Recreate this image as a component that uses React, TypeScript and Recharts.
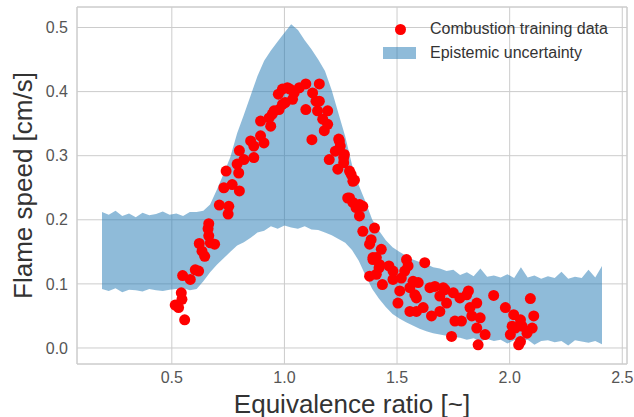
import React from 'react';
import {
  Area,
  CartesianGrid,
  ComposedChart,
  Legend,
  ReferenceArea,
  Scatter,
  XAxis,
  YAxis,
} from 'recharts';

// Uncertainty band sampled along the equivalence ratio axis.
const bandX = [
  0.19, 0.22, 0.25, 0.28, 0.31, 0.34, 0.37, 0.4, 0.43, 0.46, 0.49, 0.52, 0.55, 0.58,
  0.61, 0.64, 0.67, 0.7, 0.73, 0.76, 0.79, 0.82, 0.85, 0.88, 0.91, 0.94, 0.97, 1.0,
  1.03, 1.06, 1.09, 1.12, 1.15, 1.18, 1.21, 1.24, 1.27, 1.3, 1.33, 1.36, 1.39, 1.42,
  1.45, 1.48, 1.51, 1.54, 1.57, 1.6, 1.63, 1.66, 1.69, 1.72, 1.75, 1.78, 1.81, 1.84,
  1.87, 1.9, 1.93, 1.96, 1.99, 2.02, 2.05, 2.08, 2.11, 2.14, 2.17, 2.2, 2.23, 2.26,
  2.29, 2.32, 2.35, 2.38, 2.41,
];
const bandHigh = [
  0.212, 0.208, 0.214, 0.206, 0.21, 0.204, 0.211, 0.207, 0.209, 0.213, 0.208, 0.21, 0.206, 0.212,
  0.212, 0.214, 0.224, 0.247, 0.272, 0.298, 0.335, 0.364, 0.394, 0.424, 0.448, 0.464, 0.478, 0.492,
  0.505, 0.496, 0.48, 0.466, 0.45, 0.432, 0.402, 0.366, 0.33, 0.286, 0.254, 0.228, 0.2, 0.183,
  0.168, 0.157, 0.15, 0.144, 0.138, 0.134, 0.131, 0.126, 0.124, 0.12, 0.122, 0.114, 0.118, 0.112,
  0.124, 0.111, 0.113, 0.11, 0.115, 0.109, 0.126, 0.11, 0.113, 0.108, 0.112, 0.109, 0.119, 0.108,
  0.111, 0.109, 0.122, 0.11, 0.128,
];
const bandLow = [
  0.092, 0.089, 0.093, 0.087, 0.091, 0.09, 0.088, 0.092, 0.09, 0.089, 0.091, 0.092, 0.093, 0.09,
  0.092, 0.104, 0.118, 0.13, 0.14, 0.15, 0.16, 0.165, 0.172, 0.18, 0.183, 0.19, 0.186, 0.191,
  0.188, 0.186, 0.19, 0.185, 0.184, 0.18, 0.176, 0.17, 0.164, 0.153, 0.136, 0.113, 0.092, 0.077,
  0.064, 0.053, 0.046, 0.04, 0.035, 0.03, 0.026, 0.023, 0.021, 0.019, 0.017, 0.016, 0.013, 0.015,
  0.01, 0.014, 0.011, 0.013, 0.007, 0.012, 0.01, 0.013, 0.005, 0.011, 0.012, 0.009, 0.011, 0.004,
  0.012, 0.01, 0.008, 0.011, 0.006,
];

// Combustion training data: [equivalence ratio, flame speed]
const trainingData: [number, number][] = [
  [0.557, 0.044], [0.515, 0.067], [0.53, 0.063], [0.545, 0.076], [0.542, 0.086],
  [0.548, 0.113], [0.582, 0.107], [0.604, 0.122], [0.619, 0.12], [0.646, 0.143],
  [0.634, 0.151], [0.622, 0.163], [0.664, 0.175], [0.69, 0.162], [0.671, 0.164],
  [0.664, 0.194], [0.661, 0.186], [0.711, 0.223], [0.753, 0.221], [0.75, 0.209],
  [0.731, 0.25], [0.768, 0.255], [0.8, 0.245], [0.741, 0.276], [0.797, 0.273],
  [0.79, 0.287], [0.82, 0.294], [0.8, 0.308], [0.864, 0.297], [0.85, 0.323],
  [0.864, 0.315], [0.894, 0.331], [0.909, 0.32], [0.894, 0.354], [0.939, 0.346],
  [0.946, 0.365], [0.976, 0.372], [1.003, 0.383], [0.973, 0.396], [0.991, 0.404],
  [1.024, 0.404], [1.036, 0.388], [1.066, 0.406], [1.013, 0.406], [1.043, 0.398],
  [1.095, 0.412], [1.155, 0.412], [0.991, 0.38], [0.954, 0.37], [0.932, 0.359],
  [1.095, 0.372], [1.14, 0.385], [1.125, 0.398], [1.147, 0.37], [1.192, 0.37],
  [1.17, 0.357], [1.192, 0.349], [1.177, 0.339], [1.122, 0.325], [1.241, 0.326],
  [1.248, 0.315], [1.226, 0.307], [1.263, 0.297], [1.199, 0.294], [1.237, 0.279],
  [1.289, 0.276], [1.263, 0.289], [1.266, 0.302], [1.155, 0.385], [1.244, 0.323],
  [1.296, 0.271], [1.304, 0.26], [1.289, 0.234], [1.333, 0.224], [1.311, 0.262],
  [1.281, 0.234], [1.304, 0.227], [1.318, 0.219], [1.348, 0.221], [1.333, 0.206],
  [1.348, 0.182], [1.4, 0.187], [1.385, 0.169], [1.378, 0.162], [1.43, 0.154],
  [1.408, 0.141], [1.423, 0.13], [1.408, 0.115], [1.435, 0.099], [1.464, 0.128],
  [1.482, 0.107], [1.542, 0.138], [1.534, 0.12], [1.512, 0.089], [1.504, 0.07],
  [1.623, 0.133], [1.571, 0.104], [1.594, 0.102], [1.579, 0.083], [1.557, 0.057],
  [1.586, 0.057], [1.616, 0.063], [1.646, 0.094], [1.668, 0.096], [1.69, 0.081],
  [1.653, 0.05], [1.69, 0.057], [1.72, 0.07], [1.75, 0.086], [1.757, 0.042],
  [1.742, 0.018], [1.779, 0.078], [1.393, 0.138], [1.378, 0.112], [1.482, 0.12],
  [1.557, 0.094], [1.586, 0.078], [1.713, 0.091], [1.817, 0.089], [1.824, 0.063],
  [1.854, 0.07], [1.786, 0.042], [1.832, 0.05], [1.869, 0.047], [1.854, 0.031],
  [1.891, 0.021], [1.86, 0.005], [1.929, 0.082], [1.981, 0.063], [2.018, 0.052],
  [2.048, 0.044], [2.092, 0.077], [2.107, 0.05], [2.1, 0.031], [2.077, 0.023],
  [2.04, 0.005], [2.003, 0.021], [2.055, 0.034], [2.025, 0.031], [2.011, 0.034],
  [2.048, 0.01], [1.519, 0.109], [1.549, 0.128], [1.705, 0.094], [1.809, 0.083],
  [1.42, 0.125], [1.393, 0.141],
];

const xTicks = [0.5, 1.0, 1.5, 2.0, 2.5];
const yTicks = [0.0, 0.1, 0.2, 0.3, 0.4, 0.5];
const X_DOMAIN: [number, number] = [0.079, 2.521];
const Y_DOMAIN: [number, number] = [-0.025, 0.532];

const FONT = "'Liberation Sans', Arial, sans-serif";
const GRID = '#cccccc';
const BAND = '#1f77b4';

const bandRows = bandX.map((x, i) => ({ x, band: [bandLow[i], bandHigh[i]] }));
const points = trainingData.map(([x, y]) => ({ x, y }));

function Dot(props: { cx?: number; cy?: number }) {
  if (props.cx == null || props.cy == null) return null;
  return <circle cx={props.cx} cy={props.cy} r={5.5} fill="#ff0000" />;
}

function LegendBox() {
  const row: React.CSSProperties = {
    display: 'flex',
    alignItems: 'center',
    height: 24,
    whiteSpace: 'nowrap',
  };
  return (
    <div style={{ fontFamily: FONT, fontSize: 16, color: '#333' }}>
      <div style={row}>
        <span style={{ width: 52, position: 'relative', height: 24 }}>
          <span
            style={{
              position: 'absolute',
              left: 16.5,
              top: 6.5,
              width: 11,
              height: 11,
              borderRadius: '50%',
              background: '#ff0000',
            }}
          />
        </span>
        Combustion training data
      </div>
      <div style={row}>
        <span style={{ width: 52, position: 'relative', height: 24 }}>
          <span
            style={{
              position: 'absolute',
              left: 5,
              top: 6,
              width: 33,
              height: 12,
              background: BAND,
              opacity: 0.5,
            }}
          />
        </span>
        Epistemic uncertainty
      </div>
    </div>
  );
}

export default function App() {
  const fmt = (v: number) => v.toFixed(1);
  return (
    <div style={{ position: 'absolute', left: 0, top: 0, background: '#fff' }}>
      <ComposedChart
        width={634}
        height={417}
        margin={{ top: 7, right: 7, left: 0, bottom: 0 }}
        style={{ fontFamily: FONT }}
      >
        <CartesianGrid stroke={GRID} strokeWidth={1} />
        <XAxis
          dataKey="x"
          type="number"
          domain={X_DOMAIN}
          allowDataOverflow
          ticks={xTicks}
          tickFormatter={fmt}
          tickLine={false}
          tickSize={0}
          tickMargin={8}
          axisLine={false}
          height={53}
          tick={{ fill: '#555', fontSize: 16 }}
          label={{
            value: 'Equivalence ratio [~]',
            position: 'insideBottom',
            offset: 4,
            style: { fill: '#333', fontSize: 26, textAnchor: 'middle' },
          }}
        />
        <YAxis
          type="number"
          domain={Y_DOMAIN}
          allowDataOverflow
          ticks={yTicks}
          tickFormatter={fmt}
          tickLine={false}
          tickSize={0}
          tickMargin={9}
          axisLine={false}
          width={77}
          tick={{ fill: '#555', fontSize: 16 }}
          label={{
            value: 'Flame speed [cm/s]',
            angle: -90,
            position: 'insideLeft',
            offset: 23,
            style: { fill: '#333', fontSize: 26, textAnchor: 'middle' },
          }}
        />
        <ReferenceArea
          x1={X_DOMAIN[0]}
          x2={X_DOMAIN[1]}
          y1={Y_DOMAIN[0]}
          y2={Y_DOMAIN[1]}
          fill="none"
          stroke={GRID}
          strokeWidth={1}
          ifOverflow="visible"
        />
        <Area
          data={bandRows}
          dataKey="band"
          type="linear"
          stroke="none"
          fill={BAND}
          fillOpacity={0.5}
          isAnimationActive={false}
          dot={false}
          activeDot={false}
        />
        <Scatter
          data={points}
          dataKey="y"
          fill="#ff0000"
          shape={(p: any) => <Dot cx={p.cx} cy={p.cy} />}
          isAnimationActive={false}
        />
        <Legend
          layout="horizontal"
          verticalAlign="middle"
          align="center"
          wrapperStyle={{ position: 'absolute', left: 378, top: 17, width: 250, height: 48 }}
          content={() => <LegendBox />}
        />
      </ComposedChart>
    </div>
  );
}
